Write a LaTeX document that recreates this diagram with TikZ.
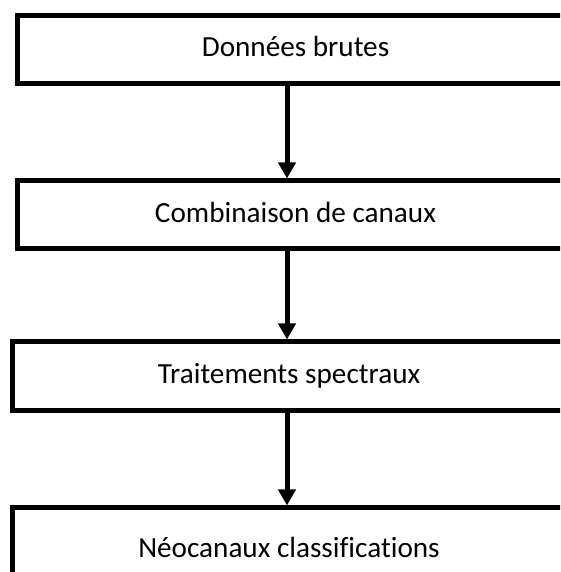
\documentclass[tikz,border=0pt]{standalone}
\usepackage{fontspec}
\setmainfont{Carlito}[Ligatures=NoCommon]
\usetikzlibrary{arrows.meta}
\begin{document}
\begin{tikzpicture}[x=1pt,y=1pt,
  stepbox/.style={draw=black, line width=5pt, rectangle, inner sep=0pt,
    text height=18pt, text depth=3.4pt,
    font=\fontsize{29.2}{35}\selectfont},
  flow/.style={line width=5pt, -{Triangle[width=17pt,length=16pt]}}]
\clip (0,0) rectangle (560,572);
\useasboundingbox (0,0) rectangle (560,572);
\node[stepbox, minimum width=556pt, minimum height=68pt] (b1) at (295.5,522.5) {Données brutes};
\node[stepbox, minimum width=556pt, minimum height=68pt] (b2) at (295.5,357) {Combinaison de canaux};
\node[stepbox, minimum width=554pt, minimum height=68.5pt] (b3) at (289,195.75) {Traitements spectraux};
\node[stepbox, minimum width=554pt, minimum height=84pt] (b4) at (289,22) {Néocanaux classifications};
\coordinate (ax) at (287,0);
\draw[flow] (b1.south -| ax) -- (b2.north -| ax);
\draw[flow] (b2.south -| ax) -- (b3.north -| ax);
\draw[flow] (b3.south -| ax) -- (b4.north -| ax);
\end{tikzpicture}
\end{document}
